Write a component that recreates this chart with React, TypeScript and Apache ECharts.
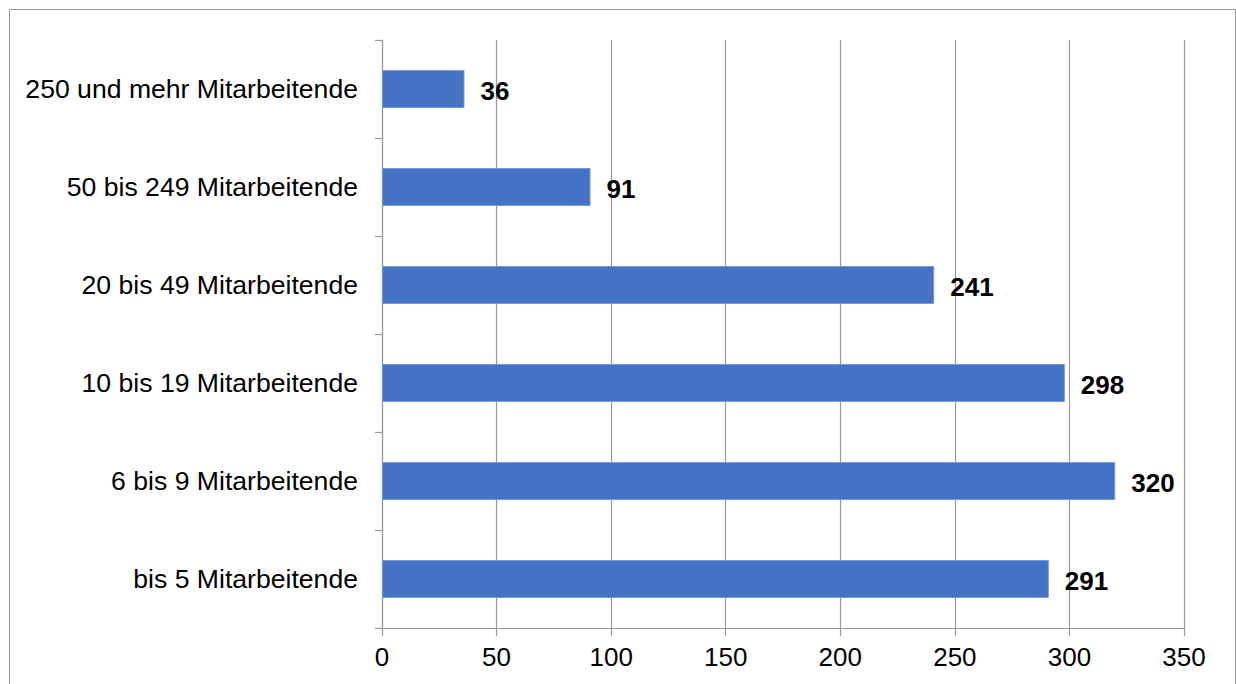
import React, { useEffect, useRef } from "react";
import * as echarts from "echarts";

const categories = [
  "bis 5 Mitarbeitende",
  "6 bis 9 Mitarbeitende",
  "10 bis 19 Mitarbeitende",
  "20 bis 49 Mitarbeitende",
  "50 bis 249 Mitarbeitende",
  "250 und mehr Mitarbeitende",
];
const values = [291, 320, 298, 241, 91, 36];
const axisMin = 0;
const axisMax = 350;
const axisStep = 50;

const FONT = "'Liberation Sans', Arial, sans-serif";
const GRID_COLOR = "#999999";

export default function App() {
  const ref = useRef<HTMLDivElement>(null);
  useEffect(() => {
    if (!ref.current) return;
    const chart = echarts.init(ref.current, null, { renderer: "svg" });
    chart.setOption({
      animation: false,
      backgroundColor: "#ffffff",
      textStyle: { fontFamily: FONT },
      graphic: [
        {
          type: "rect",
          shape: { x: 9.5, y: 9.5, width: 1226, height: 700 },
          style: { fill: "none", stroke: "#999999", lineWidth: 1 },
          silent: true,
        },
      ],
      grid: { left: 382, right: 52, top: 40, bottom: 56, containLabel: false },
      xAxis: {
        type: "value",
        min: axisMin,
        max: axisMax,
        interval: axisStep,
        axisLine: { show: true, lineStyle: { color: GRID_COLOR, width: 1.2 } },
        axisTick: { show: true, length: 8, lineStyle: { color: GRID_COLOR, width: 1.2 } },
        splitLine: { show: true, lineStyle: { color: GRID_COLOR, width: 1.2 } },
        axisLabel: { color: "#000", fontSize: 26, fontFamily: FONT, margin: 16 },
      },
      yAxis: {
        type: "category",
        data: categories,
        axisLine: { show: true, lineStyle: { color: GRID_COLOR, width: 1.2 } },
        axisTick: { show: true, length: 7, lineStyle: { color: GRID_COLOR, width: 1.2 } },
        axisLabel: { color: "#000", fontSize: 26.6, fontFamily: FONT, margin: 24 },
      },
      series: [
        {
          type: "bar",
          data: values,
          barWidth: 38,
          itemStyle: { color: "#4472C4", borderColor: "#7b98d4", borderWidth: 1 },
          label: {
            show: true,
            position: "right",
            distance: 16,
            offset: [0, 2],
            color: "#000",
            fontWeight: "bold",
            fontSize: 26,
            fontFamily: FONT,
          },
        },
      ],
    });
    return () => chart.dispose();
  }, []);
  return (
    <div
      ref={ref}
      style={{ position: "absolute", left: 0, top: 0, width: 1236, height: 684 }}
    />
  );
}
